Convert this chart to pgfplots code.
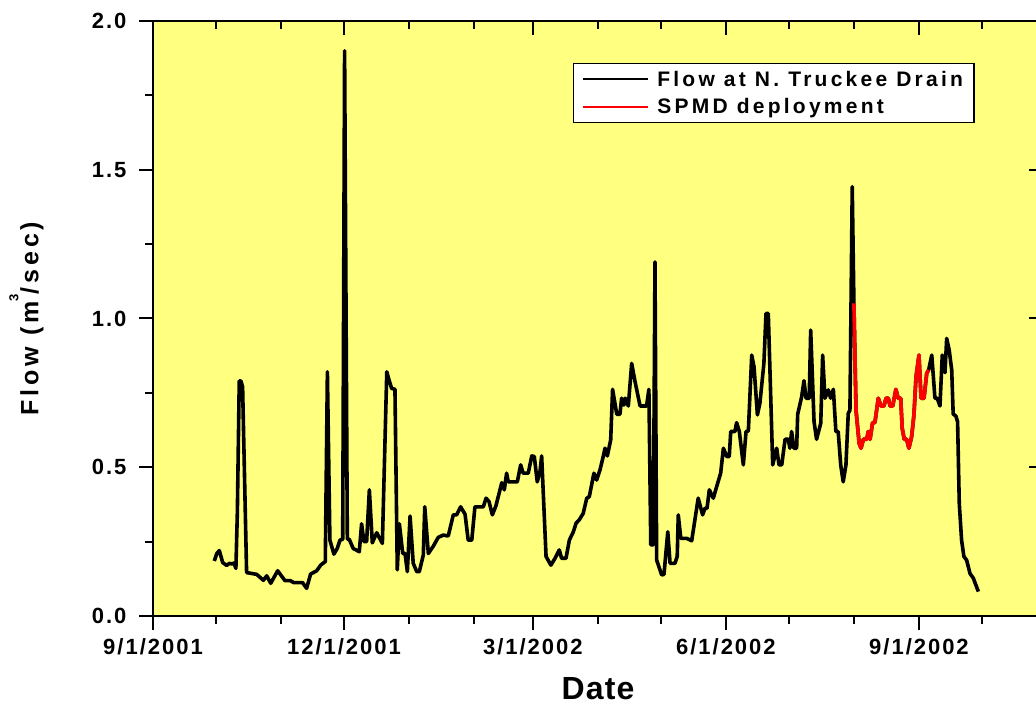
\documentclass[border=0pt]{standalone}
\usepackage{fontspec}
\setmainfont{Liberation Sans}
\usepackage{pgfplots}
\usepackage{pgfplotstable}
\pgfplotsset{compat=1.18}
\definecolor{bgyellow}{RGB}{255,255,128}

% day = days since 9/1/2001, flow in m^3/sec
\pgfplotstableread{
day flow
29.2 0.185
30.4 0.21
31.6 0.22
33.2 0.18
35.1 0.17
36.4 0.177
37.6 0.175
38.6 0.178
39.5 0.16
40.2 0.35
41.1 0.79
41.9 0.79
42.7 0.77
44.6 0.146
49.4 0.14
52.6 0.12
54.2 0.135
56.1 0.11
59.4 0.152
62.9 0.119
65.3 0.119
67.2 0.112
71.3 0.112
73.2 0.093
75.1 0.141
78.0 0.152
79.9 0.171
82.1 0.183
83.1 0.821
84.3 0.255
86.2 0.208
87.8 0.227
89.1 0.255
90.4 0.258
91.3 1.9
92.6 0.258
93.5 0.258
95.4 0.227
98.3 0.216
99.4 0.31
100.5 0.25
101.8 0.25
103.1 0.424
104.5 0.246
106.6 0.28
109.3 0.244
111.4 0.821
112.2 0.80
113.7 0.765
115.3 0.762
116.4 0.155
117.4 0.31
119.0 0.21
120.1 0.21
121.2 0.149
122.5 0.336
124.0 0.177
125.7 0.149
126.9 0.149
128.8 0.205
129.5 0.367
131.2 0.21
133.6 0.235
135.9 0.264
138.3 0.272
140.7 0.269
143.1 0.34
144.7 0.34
146.6 0.367
148.7 0.342
150.2 0.255
151.9 0.255
153.4 0.367
157.4 0.367
158.7 0.396
160.1 0.385
161.7 0.34
163.4 0.37
166.2 0.448
167.4 0.424
168.5 0.48
169.3 0.451
173.6 0.451
175.2 0.508
176.4 0.48
178.8 0.48
180.5 0.538
181.7 0.536
183.1 0.451
184.4 0.485
185.2 0.538
187.3 0.2
189.6 0.171
191.6 0.194
193.6 0.222
194.7 0.194
196.8 0.194
198.4 0.255
200.3 0.283
201.6 0.312
203.1 0.323
205.0 0.345
206.7 0.396
207.9 0.401
210.1 0.48
211.4 0.457
213.0 0.491
214.6 0.538
215.4 0.564
216.5 0.538
218.1 0.592
219.0 0.762
221.0 0.678
222.5 0.678
223.3 0.732
224.4 0.709
225.0 0.732
226.5 0.706
228.1 0.849
229.7 0.788
232.1 0.706
235.2 0.706
236.3 0.762
237.2 0.239
238.4 0.239
239.2 1.19
240.0 0.188
242.4 0.138
243.5 0.14
245.3 0.283
246.4 0.177
248.7 0.177
249.8 0.2
250.3 0.34
251.5 0.261
254.3 0.261
256.7 0.253
259.8 0.396
261.9 0.34
263.0 0.362
264.0 0.362
265.1 0.424
267.0 0.396
268.6 0.435
270.5 0.48
271.8 0.564
273.4 0.536
274.6 0.536
275.3 0.62
277.3 0.62
278.1 0.65
279.4 0.62
281.3 0.508
282.6 0.62
283.7 0.622
285.3 0.877
286.4 0.838
288.0 0.676
289.2 0.715
291.1 0.849
292.1 1.017
293.2 1.017
295.3 0.508
297.2 0.564
298.3 0.508
299.6 0.508
301.2 0.594
302.7 0.594
303.5 0.564
304.3 0.62
305.4 0.564
306.7 0.564
307.2 0.678
309.1 0.737
310.2 0.791
311.2 0.732
312.7 0.732
313.4 0.961
315.0 0.653
316.2 0.594
318.2 0.648
319.1 0.877
320.2 0.732
321.8 0.76
322.9 0.732
324.2 0.762
325.4 0.62
326.5 0.62
327.7 0.508
328.9 0.451
330.2 0.508
331.3 0.681
332.1 0.692
333.2 1.443
334.0 1.051
335.0 0.692
336.5 0.58
337.4 0.564
338.5 0.594
340.1 0.594
340.8 0.62
341.7 0.594
342.9 0.65
344.0 0.65
345.6 0.732
346.9 0.706
348.3 0.706
349.3 0.732
350.4 0.732
351.2 0.706
352.5 0.706
354.0 0.762
355.1 0.732
356.3 0.732
357.0 0.631
358.0 0.594
359.1 0.594
360.2 0.564
361.5 0.603
362.6 0.676
363.6 0.804
365.0 0.877
366.0 0.732
367.4 0.732
368.7 0.816
369.6 0.827
371.1 0.877
372.6 0.732
373.7 0.732
375.0 0.706
376.1 0.877
377.4 0.818
378.2 0.933
379.4 0.894
380.6 0.827
381.3 0.679
382.6 0.672
383.4 0.653
384.2 0.379
385.3 0.255
386.4 0.2
387.7 0.188
389.3 0.143
390.9 0.127
393.3 0.082
}\flowdata

\pgfplotstableread{
day flow
334.0 1.051
335.0 0.692
336.5 0.58
337.4 0.564
338.5 0.594
340.1 0.594
340.8 0.62
341.7 0.594
342.9 0.65
344.0 0.65
345.6 0.732
346.9 0.706
348.3 0.706
349.3 0.732
350.4 0.732
351.2 0.706
352.5 0.706
354.0 0.762
355.1 0.732
356.3 0.732
357.0 0.631
358.0 0.594
359.1 0.594
360.2 0.564
361.5 0.603
362.6 0.676
363.6 0.804
365.0 0.877
366.0 0.732
367.4 0.732
368.7 0.816
369.6 0.827
}\spmddata

\begin{document}
\begin{tikzpicture}
\begin{axis}[
  name=main,
  anchor=south west,
  scale only axis, width=890pt, height=595pt,
  xmin=0, xmax=424.1, ymin=0, ymax=2,
  axis background/.style={fill=bgyellow},
  axis line style={line width=2pt},
  tick align=outside,
  xtick pos=left, ytick pos=left,
  xtick={0,91,181,273,365},
  xticklabels={9/1/2001,12/1/2001,3/1/2002,6/1/2002,9/1/2002},
  minor xtick={30,61,122,153,212,242,303,334,395},
  ytick={0,0.5,1,1.5,2},
  yticklabels={0.0,0.5,1.0,1.5,2.0},
  minor ytick={0.25,0.75,1.25,1.75},
  major tick length=14pt, minor tick length=8pt,
  tick style={line width=2pt, black},
  ticklabel style={font=\fontsize{22}{26}\selectfont\bfseries\addfontfeature{LetterSpace=9}},
  xticklabel shift=5pt,
  yticklabel shift=9pt,
  xlabel={Date},
  xlabel style={at={(axis description cs:0.5,-0.1400)}, anchor=base,
    font=\fontsize{32}{38}\selectfont\bfseries\addfontfeature{LetterSpace=3.5}},
  ylabel={Flow (m\raisebox{20pt}{\fontsize{13}{15}\selectfont 3}/sec)},
  ylabel style={at={(axis description cs:-0.1289,0.5)}, anchor=base,
    font=\fontsize{25}{30}\selectfont\bfseries\addfontfeature{LetterSpace=15.5}},
  legend style={at={(axis description cs:0.472,0.929)}, anchor=north west,
    draw=black, line width=1.2pt, fill=white,
    font=\fontsize{21}{25}\selectfont\bfseries\addfontfeature{LetterSpace=15.5},
    inner xsep=9pt, inner ysep=5pt, row sep=7pt},
  legend cell align=left,
  legend image code/.code={\draw[#1, line width=1.6pt] (0pt,0pt) -- (65pt,0pt); \path (70pt,0pt);},
]
\addplot[black, line width=3.6pt, line join=round] table[x=day, y=flow] {\flowdata};
\addlegendentry{Flow at N. Truckee Drain}
\addplot[red, line width=3.6pt, line join=round] table[x=day, y=flow] {\spmddata};
\addlegendentry{SPMD deployment}
\end{axis}
\begin{axis}[
  anchor=south west,
  scale only axis, width=890pt, height=595pt,
  xmin=0, xmax=424.1, ymin=0, ymax=2,
  axis line style={line width=2pt},
  tick align=inside,
  xtick pos=right, ytick pos=right,
  xtick={0,91,181,273,365},
  minor xtick={30,61,122,153,212,242,303,334,395},
  ytick={0,0.5,1,1.5,2},
  xticklabels={}, yticklabels={},
  major tick length=14pt, minor tick length=8pt,
  tick style={line width=2pt, black},
]
\end{axis}
\pgfresetboundingbox
\useasboundingbox ([shift={(-153pt,-88pt)}]main.south west) rectangle ([shift={(883pt,616pt)}]main.south west);
\end{tikzpicture}
\end{document}
